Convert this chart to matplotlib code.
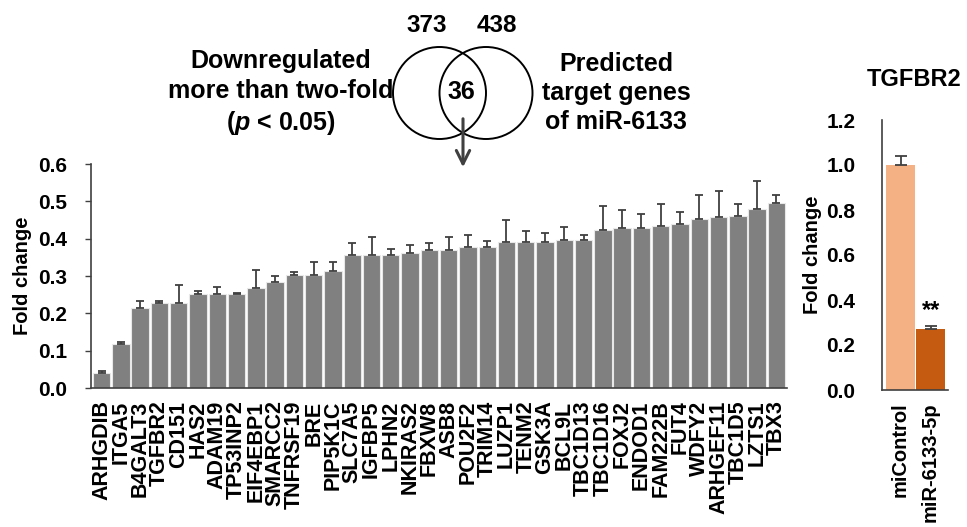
import numpy as np
import matplotlib
matplotlib.use("Agg")
import matplotlib.pyplot as plt
from matplotlib.patches import Ellipse

plt.rcParams['font.family'] = ['Liberation Sans', 'DejaVu Sans']
plt.rcParams['font.weight'] = 'bold'
plt.rcParams['mathtext.fontset'] = 'custom'
plt.rcParams['mathtext.it'] = 'Liberation Sans:italic:bold'

# genes downregulated by miR-6133 and predicted as its targets
genes = ['ARHGDIB', 'ITGA5', 'B4GALT3', 'TGFBR2', 'CD151', 'HAS2', 'ADAM19',
         'TP53INP2', 'EIF4EBP1', 'SMARCC2', 'TNFRSF19', 'BRE', 'PIP5K1C',
         'SLC7A5', 'IGFBP5', 'LPHN2', 'NKIRAS2', 'FBXW8', 'ASB8', 'POU2F2',
         'TRIM14', 'LUZP1', 'TENM2', 'GSK3A', 'BCL9L', 'TBC1D13', 'TBC1D16',
         'FOXJ2', 'ENDOD1', 'FAM222B', 'FUT4', 'WDFY2', 'ARHGEF11', 'TBC1D5',
         'LZTS1', 'TBX3']
fold = [0.041, 0.119, 0.214, 0.229, 0.229, 0.252, 0.252, 0.252, 0.269, 0.285,
        0.302, 0.302, 0.313, 0.357, 0.357, 0.357, 0.362, 0.369, 0.370, 0.379,
        0.379, 0.391, 0.390, 0.390, 0.396, 0.396, 0.423, 0.429, 0.429, 0.435,
        0.440, 0.452, 0.457, 0.462, 0.479, 0.495]
fold_sd = [0.004, 0.003, 0.020, 0.004, 0.048, 0.008, 0.019, 0.003, 0.048, 0.014,
           0.009, 0.036, 0.025, 0.031, 0.047, 0.014, 0.021, 0.019, 0.034, 0.032,
           0.016, 0.058, 0.031, 0.026, 0.036, 0.014, 0.065, 0.048, 0.037, 0.059,
           0.032, 0.064, 0.070, 0.032, 0.076, 0.021]

# TGFBR2 qPCR
groups = ['miControl', 'miR-6133-5p']
tgfbr2 = [1.00, 0.27]
tgfbr2_sd = [0.04, 0.014]
group_colors = ['#F4B183', '#C55A11']

# Venn counts
n_down, n_pred, n_both = 373, 438, 36

W, H = 967, 527
fig = plt.figure(figsize=(W / 100, H / 100), dpi=100)

# overlay in pixel units for the Venn diagram and the panel title
ov = fig.add_axes([0, 0, 1, 1], zorder=0)
ov.set_xlim(0, W)
ov.set_ylim(H, 0)
ov.axis('off')
ov.add_patch(Ellipse((439.5, 93), 93, 92, fill=False, lw=1.4, ec='black'))
ov.add_patch(Ellipse((486, 93), 93, 92, fill=False, lw=1.4, ec='black'))
ov.text(427, 25, str(n_down), ha='center', va='center', fontsize=17.5, weight='bold')
ov.text(497, 25, str(n_pred), ha='center', va='center', fontsize=17.5, weight='bold')
ov.text(461, 92, str(n_both), ha='center', va='center', fontsize=18, weight='bold')
ov.annotate('', xy=(463, 170), xytext=(463, 116),
            arrowprops=dict(arrowstyle='->', color='#404040', lw=2.2,
                            mutation_scale=24))
ov.text(281, 93, 'Downregulated\nmore than two-fold\n($\\it{p}$ < 0.05)',
        ha='center', va='center', fontsize=18, weight='bold', linespacing=1.28)
ov.text(616, 93, 'Predicted\ntarget genes\nof miR-6133',
        ha='center', va='center', fontsize=18, weight='bold', linespacing=1.28)
ov.text(914, 79, 'TGFBR2', ha='center', va='center', fontsize=17, weight='bold')

# left panel: fold change of the 36 genes
ax = fig.add_axes([91 / W, 1 - 388 / H, 696 / W, 224 / H], zorder=1)
ax.patch.set_alpha(0)
x = np.arange(len(genes))
ax.bar(x, fold, width=0.9, color='#808080', edgecolor='#e8e8e8', lw=0.8,
       yerr=[np.zeros(len(fold)), fold_sd],
       error_kw=dict(ecolor='#404040', elinewidth=1.3, capsize=3.2, capthick=1.3))
ax.set_xlim(-0.55, 35.55)
ax.set_ylim(0, 0.6)
yt = np.arange(0, 0.61, 0.1)
ax.set_yticks(yt)
ax.set_yticklabels([f'{v:.1f}' for v in yt], fontsize=15, weight='bold')
ax.set_xticks(x)
ax.set_xticklabels(genes, rotation=90, fontsize=15.5, weight='bold')
ax.tick_params(axis='x', length=0, pad=9)
ax.tick_params(axis='y', length=4, width=1, color='#404040', pad=13)
for s in ('top', 'right'):
    ax.spines[s].set_visible(False)
for s in ('left', 'bottom'):
    ax.spines[s].set_color('#404040')
    ax.spines[s].set_linewidth(1.2)
ax.set_ylabel('Fold change', fontsize=14.5, weight='bold')
ax.yaxis.set_label_coords(-0.085, 0.5)

# right panel: TGFBR2
ax2 = fig.add_axes([882 / W, 1 - 390 / H, 66 / W, 270 / H], zorder=1)
ax2.patch.set_alpha(0)
ax2.bar([0, 1], tgfbr2, width=0.98, color=group_colors,
        yerr=[[0, 0], tgfbr2_sd],
        error_kw=dict(ecolor='#404040', elinewidth=1.3, capsize=4.5, capthick=1.3))
ax2.set_xlim(-0.62, 1.58)
ax2.set_ylim(0, 1.2)
yt2 = np.arange(0, 1.21, 0.2)
ax2.set_yticks(yt2)
ax2.set_yticklabels([f'{v:.1f}' for v in yt2], fontsize=15, weight='bold')
ax2.set_xticks([0, 1])
ax2.set_xticklabels(groups, rotation=90, fontsize=14.5, weight='bold')
ax2.tick_params(axis='x', length=0, pad=9)
ax2.tick_params(axis='y', length=0, pad=19)
for s in ('top', 'right'):
    ax2.spines[s].set_visible(False)
for s in ('left', 'bottom'):
    ax2.spines[s].set_color('#404040')
    ax2.spines[s].set_linewidth(1.2)
ax2.set_ylabel('Fold change', fontsize=14.5, weight='bold')
ax2.yaxis.set_label_coords(-0.91, 0.5)
ax2.text(1, tgfbr2[1] + tgfbr2_sd[1] + 0.02, '**', ha='center', va='bottom',
         fontsize=17, weight='bold')

fig.savefig('out.png', dpi=100)
